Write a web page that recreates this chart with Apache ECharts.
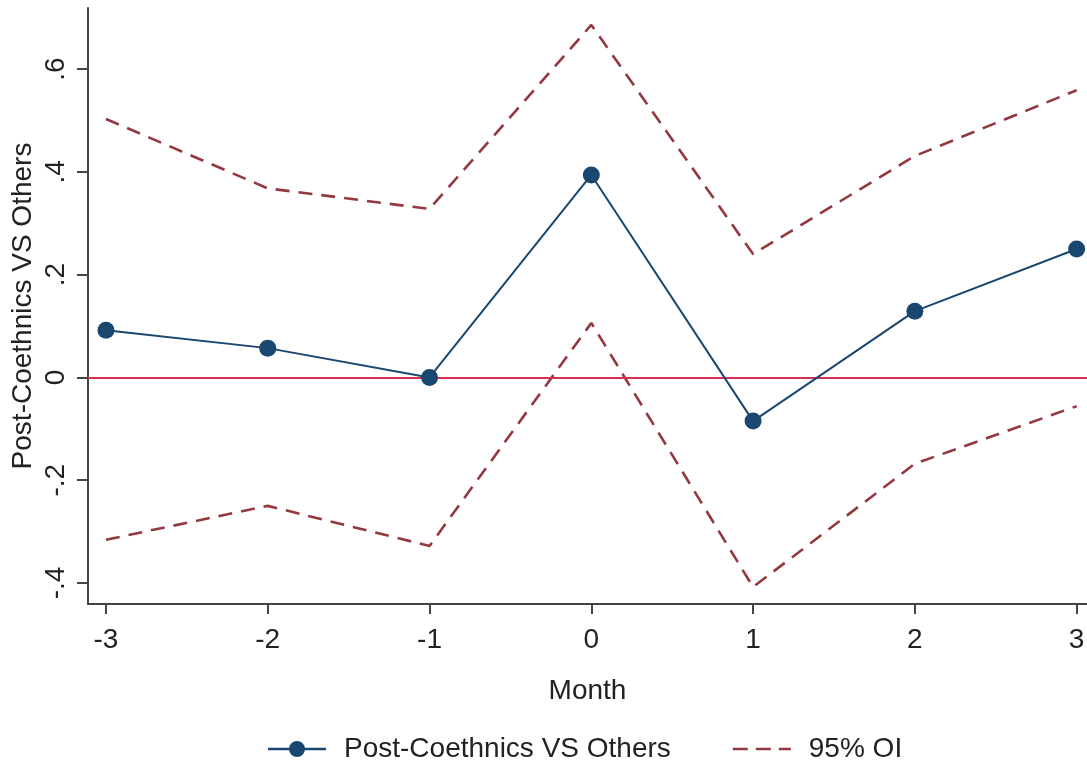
<!DOCTYPE html>
<html><head><meta charset="utf-8">
<script src="https://cdn.jsdelivr.net/npm/echarts@6/dist/echarts.min.js"></script>
<style>html,body{margin:0;padding:0;background:#fff}#c{width:1087px;height:766px}</style>
</head><body><div id="c"></div>
<script>
const months = [-3, -2, -1, 0, 1, 2, 3];
const estimate = [0.092, 0.057, 0.0, 0.394, -0.085, 0.129, 0.250];
const upperCI = [0.503, 0.368, 0.328, 0.686, 0.240, 0.431, 0.559];
const lowerCI = [-0.316, -0.250, -0.328, 0.106, -0.408, -0.168, -0.056];
const yTicks = [-0.4, -0.2, 0, 0.2, 0.4, 0.6];
const xTicks = [-3, -2, -1, 0, 1, 2, 3];

const FONT = 'Liberation Sans, Arial, sans-serif';
const FS = 28;
const navy = '#1a476f';
const maroon = '#94383f';
const zip = a => months.map((m, i) => [m, a[i]]);
const fmtY = v => {
  if (Math.abs(v) < 1e-9) return '0';
  let s = String(Math.round(v * 10) / 10);
  return s.replace('0.', '.');
};
const iconEst = 'path://M0 6.8L58 6.8L58 9.2L0 9.2Z M21 8A8 8 0 1 1 37 8A8 8 0 1 1 21 8Z';
const iconCI = 'path://M0 0L0.05 0L0.05 0.05Z M0 6.8L15 6.8L15 9.2L0 9.2Z M23 6.8L38 6.8L38 9.2L23 9.2Z M46 6.8L58 6.8L58 9.2L46 9.2Z M57.95 15.95L58 16L57.95 16Z';

const chart = echarts.init(document.getElementById('c'));
chart.setOption({
  animation: false,
  backgroundColor: '#fff',
  textStyle: { fontFamily: FONT },
  grid: { left: 88, right: 0, top: 8, bottom: 162, outerBoundsMode: 'none', containLabel: false },
  xAxis: {
    type: 'value', min: -3.111, max: 3.064,
    name: 'Month', nameLocation: 'middle', nameGap: 73, nameMoveOverlap: false,
    nameTextStyle: { fontSize: FS, color: '#222', fontFamily: FONT },
    axisLine: { show: true, onZero: false, lineStyle: { color: '#444', width: 2 } },
    axisTick: { show: true, length: 10, customValues: xTicks, lineStyle: { color: '#444', width: 2 } },
    axisLabel: { customValues: xTicks, fontSize: FS, color: '#222', margin: 22, fontFamily: FONT },
    splitLine: { show: false }
  },
  yAxis: {
    type: 'value', min: -0.441, max: 0.719,
    name: 'Post-Coethnics VS Others', nameLocation: 'middle', nameGap: 51, nameRotate: 90,
    nameMoveOverlap: false,
    nameTextStyle: { fontSize: FS, color: '#222', fontFamily: FONT },
    axisLine: { show: true, onZero: false, lineStyle: { color: '#444', width: 2 } },
    axisTick: { show: true, length: 11, customValues: yTicks, lineStyle: { color: '#444', width: 2 } },
    axisLabel: { customValues: yTicks, rotate: 90, fontSize: FS, color: '#222', margin: 18,
                 formatter: fmtY, fontFamily: FONT },
    splitLine: { show: false }
  },
  legend: {
    bottom: -2, left: 263, itemGap: 62, itemWidth: 58, itemHeight: 16,
    textStyle: { fontSize: FS, color: '#222', fontFamily: FONT, padding: [0, 0, 0, 13] },
    data: [
      { name: 'Post-Coethnics VS Others', icon: iconEst, itemStyle: { color: navy } },
      { name: '95% OI', icon: iconCI, itemStyle: { color: maroon } }
    ]
  },
  series: [
    {
      name: '95% OI', type: 'line', data: zip(upperCI), symbol: 'none',
      lineStyle: { color: maroon, width: 2.6, type: [14, 9] }, itemStyle: { color: maroon }, z: 2
    },
    {
      name: '95% OI', type: 'line', data: zip(lowerCI), symbol: 'none',
      lineStyle: { color: maroon, width: 2.6, type: [14, 9] }, itemStyle: { color: maroon }, z: 2
    },
    {
      name: 'Post-Coethnics VS Others', type: 'line', data: zip(estimate),
      symbol: 'circle', symbolSize: 17,
      lineStyle: { color: navy, width: 2 }, itemStyle: { color: navy }, z: 4,
      markLine: {
        silent: true, symbol: 'none', label: { show: false },
        lineStyle: { color: '#d62f4f', width: 2.2, type: 'solid' },
        data: [{ yAxis: 0 }], z: 3
      }
    }
  ]
});
</script>
</body></html>
